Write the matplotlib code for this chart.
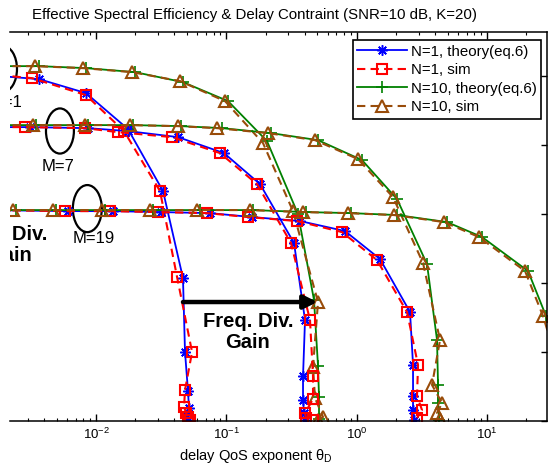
import matplotlib
matplotlib.use('Agg')
import matplotlib.pyplot as plt
from matplotlib.patches import Ellipse

plt.rcParams['font.family'] = ['Liberation Sans', 'DejaVu Sans']
plt.rcParams['mathtext.fontset'] = 'custom'
plt.rcParams['mathtext.rm'] = 'Liberation Sans'
plt.rcParams['mathtext.it'] = 'Liberation Sans:italic'
plt.rcParams['mathtext.bf'] = 'Liberation Sans:bold'

# delay QoS exponent theta_D (x) and effective spectral efficiency (y)
# M = 1
m1_n1_theory_x = [0.00148, 0.00365, 0.00838, 0.0176, 0.0327, 0.0465, 0.0482, 0.0508, 0.0517, 0.0491, 0.0508]
m1_n1_theory_y = [5.014, 4.957, 4.754, 4.232, 3.333, 2.072, 1.0, 0.435, 0.188, 0.087, 0.014]
m1_n1_sim_x = [0.00148, 0.00323, 0.00838, 0.0164, 0.0310, 0.0419, 0.0546, 0.0482, 0.0474, 0.0491, 0.0508, 0.0527]
m1_n1_sim_y = [5.029, 4.971, 4.725, 4.203, 3.333, 2.087, 1.0, 0.449, 0.203, 0.116, 0.058, 0.014]
m1_n10_theory_x = [0.00148, 0.00365, 0.00838, 0.0199, 0.0465, 0.1031, 0.2053, 0.3551, 0.4710, 0.5055, 0.5145, 0.5145]
m1_n10_theory_y = [5.145, 5.145, 5.116, 5.058, 4.913, 4.638, 4.058, 3.0, 1.754, 0.797, 0.348, 0.029]
m1_n10_sim_x = [0.00148, 0.00340, 0.00795, 0.0189, 0.0441, 0.0977, 0.1913, 0.3251, 0.5055, 0.4627, 0.4793, 0.5523, 0.5055]
m1_n10_sim_y = [5.145, 5.145, 5.116, 5.058, 4.928, 4.638, 4.029, 3.043, 1.725, 0.783, 0.333, 0.058, 0.014]

# M = 7
m7_n1_theory_x = [0.00148, 0.00311, 0.00868, 0.0176, 0.0426, 0.0960, 0.1814, 0.3309, 0.4018, 0.3879, 0.3879, 0.3948, 0.4018]
m7_n1_theory_y = [4.261, 4.261, 4.246, 4.203, 4.116, 3.884, 3.435, 2.580, 1.464, 0.652, 0.304, 0.116, 0.014]
m7_n1_sim_x = [0.00148, 0.00285, 0.00823, 0.01475, 0.0383, 0.0895, 0.1720, 0.3138, 0.4388, 0.4627, 0.4627, 0.4018, 0.4090, 0.4627]
m7_n1_sim_y = [4.261, 4.261, 4.246, 4.188, 4.116, 3.884, 3.435, 2.580, 1.464, 0.652, 0.319, 0.116, 0.043, 0.01]
m7_n10_theory_x = [0.00148, 0.00346, 0.00868, 0.0192, 0.0449, 0.0927, 0.2203, 0.5055, 1.100, 2.042, 3.470, 4.140, 4.215, 4.215, 4.291]
m7_n10_theory_y = [4.290, 4.290, 4.290, 4.290, 4.275, 4.246, 4.174, 4.072, 3.783, 3.217, 2.275, 1.174, 0.522, 0.261, 0.014]
m7_n10_sim_x = [0.00148, 0.00328, 0.00823, 0.0182, 0.0426, 0.0848, 0.2089, 0.4793, 1.025, 1.903, 3.233, 4.366, 3.790, 4.523, 4.140, 4.366]
m7_n10_sim_y = [4.290, 4.290, 4.290, 4.290, 4.275, 4.246, 4.174, 4.072, 3.797, 3.246, 2.290, 1.174, 0.522, 0.261, 0.116, 0.029]

# M = 19
m19_n1_theory_x = [0.00148, 0.00610, 0.0135, 0.0315, 0.0750, 0.1575, 0.3678, 0.8147, 1.512, 2.569, 2.710, 2.710, 2.710, 2.758]
m19_n1_theory_y = [3.058, 3.043, 3.043, 3.029, 3.014, 2.957, 2.899, 2.754, 2.348, 1.580, 0.812, 0.362, 0.159, 0.014]
m19_n1_sim_x = [0.00148, 0.00578, 0.0128, 0.0299, 0.0711, 0.1467, 0.3488, 0.7727, 1.434, 2.437, 2.960, 2.908, 3.176, 2.908]
m19_n1_sim_y = [3.058, 3.043, 3.043, 3.029, 3.014, 2.957, 2.899, 2.739, 2.333, 1.580, 0.812, 0.362, 0.159, 0.043]
m19_n10_theory_x = [0.00148, 0.00243, 0.00493, 0.0117, 0.0274, 0.0628, 0.1603, 0.4090, 0.9057, 2.042, 4.941, 9.170, 20.68, 28.42, 36.4]
m19_n10_theory_y = [3.058, 3.058, 3.058, 3.058, 3.058, 3.058, 3.058, 3.029, 3.014, 2.986, 2.884, 2.667, 2.174, 1.522, 0.739]
m19_n10_sim_x = [0.00148, 0.00231, 0.00468, 0.0111, 0.0260, 0.0596, 0.1520, 0.3879, 0.8590, 1.936, 4.686, 8.698, 19.61, 26.95, 36.4]
m19_n10_sim_y = [3.058, 3.058, 3.058, 3.058, 3.058, 3.058, 3.058, 3.029, 3.014, 2.986, 2.884, 2.667, 2.174, 1.522, 0.71]

groups = [
	(m1_n1_theory_x, m1_n1_theory_y, m1_n1_sim_x, m1_n1_sim_y,
	 m1_n10_theory_x, m1_n10_theory_y, m1_n10_sim_x, m1_n10_sim_y),
	(m7_n1_theory_x, m7_n1_theory_y, m7_n1_sim_x, m7_n1_sim_y,
	 m7_n10_theory_x, m7_n10_theory_y, m7_n10_sim_x, m7_n10_sim_y),
	(m19_n1_theory_x, m19_n1_theory_y, m19_n1_sim_x, m19_n1_sim_y,
	 m19_n10_theory_x, m19_n10_theory_y, m19_n10_sim_x, m19_n10_sim_y),
]
labels = ['N=1, theory(eq.6)', 'N=1, sim', 'N=10, theory(eq.6)', 'N=10, sim']

BLUE = '#0000ff'
RED = '#ff0000'
GREEN = '#008000'
BROWN = '#994c0a'

fig = plt.figure(figsize=(5.49, 4.66), dpi=100)
# left part of the original figure is cropped away
ax = fig.add_axes([10/549, 45/466, 537/549, 389/466])

for i, (t1x, t1y, s1x, s1y, t10x, t10y, s10x, s10y) in enumerate(groups):
	lab = (lambda k: labels[k]) if i == 0 else (lambda k: '_nolegend_')
	ax.plot(t1x, t1y, '-', color=BLUE, lw=1.3, marker=(8, 2, 0), ms=7.5, mew=1.1, label=lab(0))
	ax.plot(s1x, s1y, '--', color=RED, lw=1.5, dashes=(4, 2.5), marker='s', ms=7.5,
		mfc='none', mec=RED, mew=1.5, label=lab(1))
	ax.plot(t10x, t10y, '-', color=GREEN, lw=1.3, marker='+', ms=9, mew=1.2, label=lab(2))
	ax.plot(s10x, s10y, '--', color=BROWN, lw=1.5, dashes=(4, 2.5), marker='^', ms=8.5,
		mfc='none', mec=BROWN, mew=1.5, label=lab(3))

ax.set_xscale('log')
ax.set_xlim(10**-2.66, 10**1.461)
ax.set_ylim(0, 5.64)
ax.set_yticks([0, 1, 2, 3, 4, 5])

ax.spines['left'].set_visible(False)
for s in ['right', 'top', 'bottom']:
	ax.spines[s].set_linewidth(1.1)
ax.tick_params(axis='y', which='both', left=False, right=True, labelleft=False,
	labelright=False, direction='in', length=4, width=1)
ax.tick_params(axis='x', which='major', top=True, bottom=True, direction='in',
	length=5, width=1, labelsize=9.5, pad=4)
ax.tick_params(axis='x', which='minor', top=True, bottom=True, direction='in',
	length=2.5, width=0.8)

ax.set_xlabel(r'delay QoS exponent θ$_{\rm D}$', fontsize=10.5)
ax.xaxis.set_label_coords(0.458, -0.066)
fig.text(254/549, 1 - 15/466, 'Effective Spectral Efficiency & Delay Contraint (SNR=10 dB, K=20)',
	ha='center', va='center', fontsize=10.8)

leg = ax.legend(loc='upper right', bbox_to_anchor=(0.9888, 0.9794), borderaxespad=0,
	fancybox=False, edgecolor='k', framealpha=1, fontsize=10.8, handlelength=3.3,
	handletextpad=0.25, borderpad=0.3, labelspacing=0.3, numpoints=1)
leg.get_frame().set_linewidth(1.2)

# annotations
for cx, cy, w, h in [(-0.013, 0.905, 0.052, 0.118), (0.093, 0.7455, 0.052, 0.116),
		(0.144, 0.546, 0.054, 0.121)]:
	ax.add_patch(Ellipse((cx, cy), w, h, transform=ax.transAxes, fill=False,
		ec='k', lw=1.6, clip_on=True))
ax.text(0.0242, 0.820, 'M=1', transform=ax.transAxes, ha='right', va='center',
	fontsize=12, clip_on=True)
ax.text(0.0894, 0.6555, 'M=7', transform=ax.transAxes, ha='center', va='center', fontsize=12)
ax.text(0.1564, 0.4679, 'M=19', transform=ax.transAxes, ha='center', va='center', fontsize=12)
ax.text(0.0689, 0.4807, 'Space Div.', transform=ax.transAxes, ha='right', va='center',
	fontsize=14.5, fontweight='bold', clip_on=True)
ax.text(0.0410, 0.4267, 'Gain', transform=ax.transAxes, ha='right', va='center',
	fontsize=14.5, fontweight='bold', clip_on=True)
ax.text(0.4432, 0.2288, 'Freq. Div.\nGain', transform=ax.transAxes, ha='center',
	va='center', fontsize=14.5, fontweight='bold', linespacing=1.15)
ax.annotate('', xy=(0.50, 1.725), xytext=(0.0465, 1.725),
	arrowprops=dict(arrowstyle='-|>', lw=3.2, color='k', mutation_scale=20,
		shrinkA=0, shrinkB=0))

fig.savefig('out.png', dpi=100)
